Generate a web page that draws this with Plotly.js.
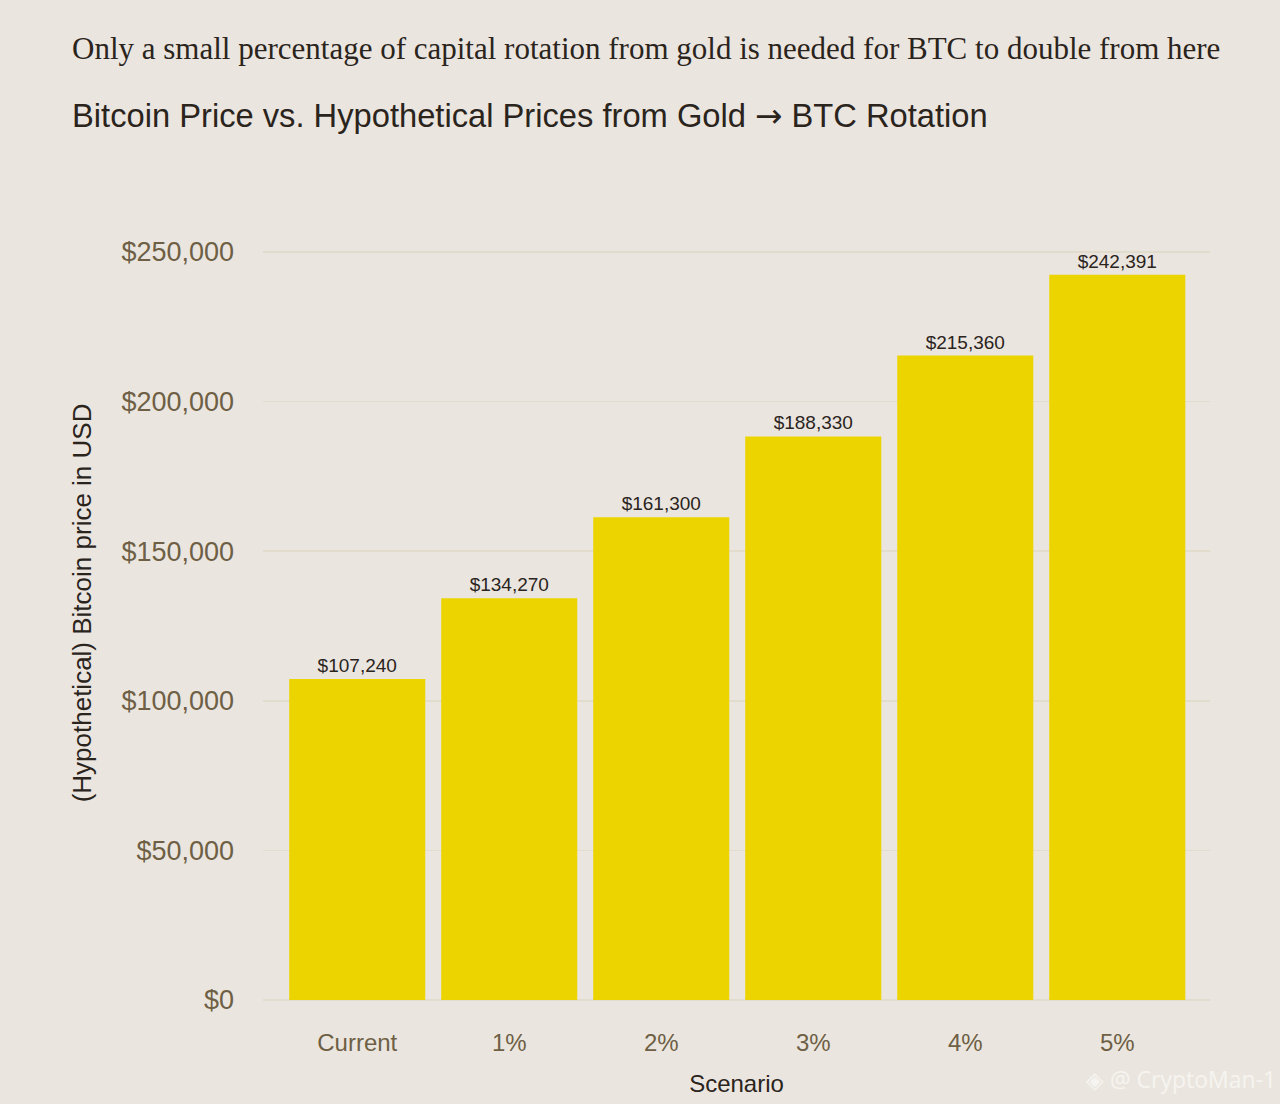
<!DOCTYPE html>
<html>
<head>
<meta charset="utf-8">
<script src="https://cdn.plot.ly/plotly-3.0.1.min.js"></script>
<style>
  html, body { margin: 0; padding: 0; background: #eae6df; }
  #chart { width: 1280px; height: 1104px; }
</style>
</head>
<body>
<div id="chart"></div>
<script>
// scenario labels and prices
const scenarios = ['Current', '1%', '2%', '3%', '4%', '5%'];
const prices = [107240, 134270, 161300, 188330, 215360, 242391];
const yTicks = [0, 50000, 100000, 150000, 200000, 250000];
const yTickText = yTicks.map(v => '$' + v.toLocaleString('en-US'));

const bg = '#eae6df';
const barColor = '#ecd400';
const tickColor = '#6e5f45';
const darkText = '#2a241c';

const trace = {
  type: 'bar',
  x: scenarios,
  y: prices,
  marker: { color: barColor },
  texttemplate: '$%{y:,}',
  textposition: 'outside',
  cliponaxis: false,
  textfont: { family: 'Liberation Sans, Arial, sans-serif', size: 19, color: darkText },
  hoverinfo: 'skip',
};

const layout = {
  width: 1280,
  height: 1104,
  paper_bgcolor: bg,
  plot_bgcolor: bg,
  showlegend: false,
  bargap: 0.105,
  margin: { l: 263, r: 70, t: 237, b: 104 },
  xaxis: {
    type: 'category',
    range: [-0.62, 5.61],
    showgrid: false,
    zeroline: false,
    showline: false,
    ticks: '',
    tickfont: { family: 'Liberation Sans, Arial, sans-serif', size: 24, color: tickColor },
    ticklabelstandoff: 26,
    title: {
      text: 'Scenario',
      font: { family: 'Liberation Sans, Arial, sans-serif', size: 24, color: darkText },
      standoff: 20,
    },
  },
  yaxis: {
    range: [0, 255000],
    tickvals: yTicks,
    ticktext: yTickText,
    showgrid: true,
    gridcolor: '#e2dccd',
    gridwidth: 1.5,
    zeroline: true,
    zerolinecolor: '#e2dccd',
    zerolinewidth: 1.5,
    showline: false,
    ticks: '',
    ticklabelstandoff: 28,
    tickfont: { family: 'Liberation Sans, Arial, sans-serif', size: 27, color: tickColor },
  },
  annotations: [
    {
      // y axis title, placed by hand since it sits a bit above the plot centre
      text: '(Hypothetical) Bitcoin price in USD',
      xref: 'paper', yref: 'paper',
      x: -0.191, xanchor: 'center',
      y: 0.52, yanchor: 'middle',
      textangle: -90,
      showarrow: false,
      font: { family: 'Liberation Sans, Arial, sans-serif', size: 26, color: darkText },
    },
    {
      text: 'Only a small percentage of capital rotation from gold is needed for BTC to double from here',
      xref: 'paper', yref: 'paper',
      x: -0.2043, xanchor: 'left',
      y: 1.247, yanchor: 'middle',
      showarrow: false,
      font: { family: 'Liberation Serif, Times New Roman, serif', size: 31, color: darkText },
    },
    {
      text: 'Bitcoin Price vs. Hypothetical Prices from Gold <span style="font-family:DejaVu Sans">→</span> BTC Rotation',
      xref: 'paper', yref: 'paper',
      x: -0.2033, xanchor: 'left',
      y: 1.159, yanchor: 'middle',
      showarrow: false,
      font: { family: 'Liberation Sans, Arial, sans-serif', size: 32.7, color: darkText },
    },
    {
      text: '◈ @ CryptoMan-1',
      xref: 'paper', yref: 'paper',
      x: 1.072, xanchor: 'right',
      y: -0.103, yanchor: 'middle',
      showarrow: false,
      font: { family: 'Open Sans, Liberation Sans, sans-serif', size: 23, color: '#f6f4f0' },
    },
  ],
};

Plotly.newPlot('chart', [trace], layout, { displayModeBar: false, staticPlot: true });
</script>
</body>
</html>
